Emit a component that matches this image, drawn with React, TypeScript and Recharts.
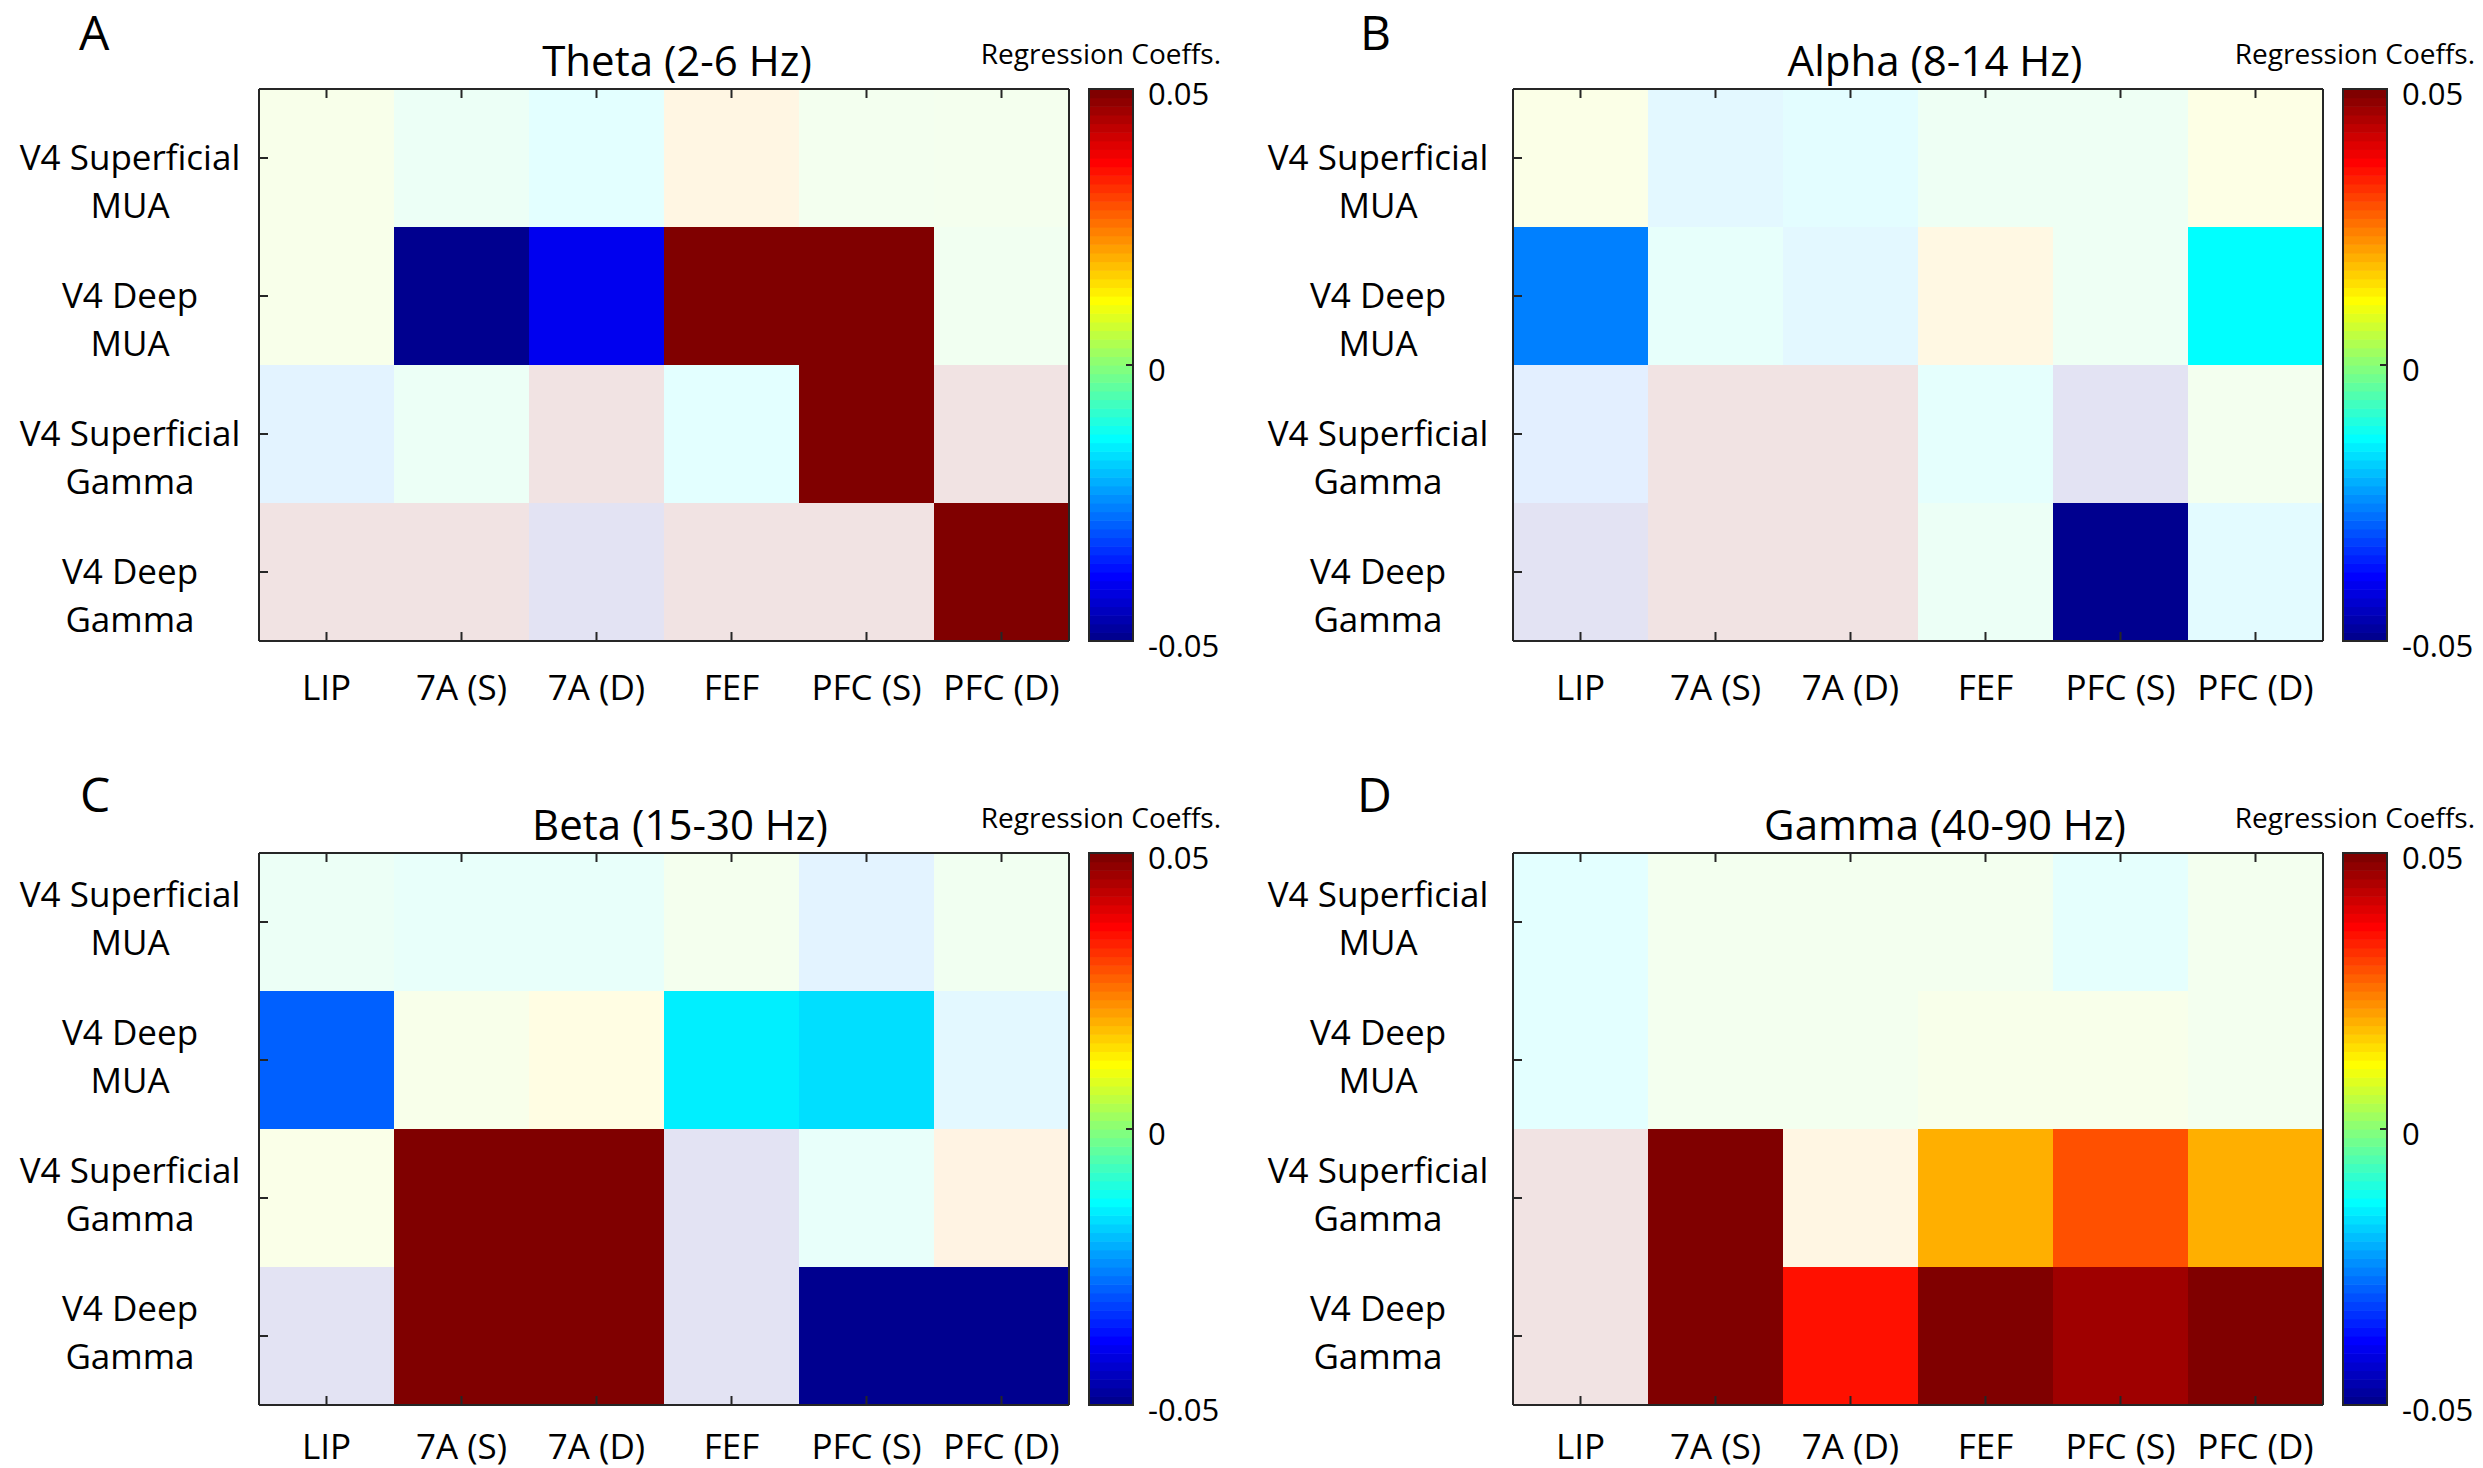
import { Bar, BarChart, Cell, XAxis, YAxis } from 'recharts'

const FONT = '"Open Sans", "Noto Sans", sans-serif'
const FRAME = '#262626'

const AREAS = ['LIP', '7A (S)', '7A (D)', 'FEF', 'PFC (S)', 'PFC (D)']
const SIGNAL_LABELS = [
  ['V4 Superficial', 'MUA'],
  ['V4 Deep', 'MUA'],
  ['V4 Superficial', 'Gamma'],
  ['V4 Deep', 'Gamma'],
]
const ROW_KEYS = ['supMua', 'deepMua', 'supGamma', 'deepGamma']
const CLIM = [-0.05, 0.05]
const CBAR_TICKS = [0.05, 0, -0.05]

// rows follow SIGNAL_LABELS, columns follow AREAS
const thetaCoeffs = [
  [0.005, -0.006, -0.014, 0.02, 0.0, 0.002],
  [0.006, -0.05, -0.04, 0.05, 0.05, -0.001],
  [-0.025, -0.005, 0.05, -0.013, 0.05, 0.05],
  [0.05, 0.05, -0.05, 0.05, 0.05, 0.05],
]
const thetaSig = [
  [0, 0, 0, 0, 0, 0],
  [0, 1, 1, 1, 1, 0],
  [0, 0, 0, 0, 1, 0],
  [0, 0, 0, 0, 0, 1],
]

const alphaCoeffs = [
  [0.008, -0.02, -0.015, -0.004, -0.004, 0.01],
  [-0.026, -0.01, -0.02, 0.018, -0.004, -0.0133],
  [-0.027, 0.05, 0.05, -0.011, -0.05, 0.001],
  [-0.05, 0.05, 0.05, -0.005, -0.05, -0.016],
]
const alphaSig = [
  [0, 0, 0, 0, 0, 0],
  [1, 0, 0, 0, 0, 1],
  [0, 0, 0, 0, 0, 0],
  [0, 0, 0, 0, 1, 0],
]

const betaCoeffs = [
  [-0.005, -0.008, -0.008, 0.002, -0.025, -0.001],
  [-0.029, 0.005, 0.013, -0.0148, -0.0164, -0.02],
  [0.007, 0.05, 0.05, -0.05, -0.008, 0.022],
  [-0.05, 0.05, 0.05, -0.05, -0.05, -0.05],
]
const betaSig = [
  [0, 0, 0, 0, 0, 0],
  [1, 0, 0, 1, 1, 0],
  [0, 1, 1, 0, 0, 0],
  [0, 1, 1, 0, 1, 1],
]

const gammaCoeffs = [
  [-0.013, 0.0, 0.0, 0.001, -0.012, 0.0],
  [-0.013, 0.0, 0.0, 0.006, 0.006, 0.001],
  [0.05, 0.05, 0.02, 0.0195, 0.029, 0.0195],
  [0.05, 0.05, 0.035, 0.05, 0.046, 0.05],
]
const gammaSig = [
  [0, 0, 0, 0, 0, 0],
  [0, 0, 0, 0, 0, 0],
  [0, 1, 0, 1, 1, 1],
  [0, 1, 1, 1, 1, 1],
]

// MATLAB jet(64)
const JET: number[][] = (() => {
  const m = 64
  const n = 16
  const u = [
    ...Array.from({ length: n }, (_, i) => (i + 1) / n),
    ...Array(n - 1).fill(1),
    ...Array.from({ length: n }, (_, i) => (n - i) / n),
  ]
  const rgb = Array.from({ length: m }, () => [0, 0, 0])
  u.forEach((val, k) => {
    const g = n / 2 + k + 1
    const r = g + n
    const b = g - n
    if (r <= m) rgb[r - 1][0] = val
    if (g <= m) rgb[g - 1][1] = val
    if (b >= 1) rgb[b - 1][2] = val
  })
  return rgb
})()

const toRgb = ([r, g, b]: number[]) =>
  `rgb(${Math.round(r * 255)},${Math.round(g * 255)},${Math.round(b * 255)})`

const colorIndex = (v: number) =>
  Math.min(63, Math.max(0, Math.floor(((v - CLIM[0]) / (CLIM[1] - CLIM[0])) * 64)))

const cellRows = AREAS.map((area) => ({
  area,
  supMua: 1,
  deepMua: 1,
  supGamma: 1,
  deepGamma: 1,
}))

const W = 810
const H = 552
const Y_TICKS = [0.5, 1.5, 2.5, 3.5]

// lineDy: baselines of the two label lines relative to the row tick
const PANELS = [
  { letter: 'A', title: 'Theta (2-6 Hz)', coeffs: thetaCoeffs, sig: thetaSig, left: 259, top: 89, titleX: 677, letterX: 79, letterY: 50, labelDx: 129, lineDy: [12, 60], xLabelDy: 59 },
  { letter: 'B', title: 'Alpha (8-14 Hz)', coeffs: alphaCoeffs, sig: alphaSig, left: 1513, top: 89, titleX: 1935, letterX: 1360, letterY: 50, labelDx: 135, lineDy: [12, 60], xLabelDy: 59 },
  { letter: 'C', title: 'Beta (15-30 Hz)', coeffs: betaCoeffs, sig: betaSig, left: 259, top: 853, titleX: 680, letterX: 80, letterY: 812, labelDx: 129, lineDy: [-15, 33], xLabelDy: 54 },
  { letter: 'D', title: 'Gamma (40-90 Hz)', coeffs: gammaCoeffs, sig: gammaSig, left: 1513, top: 853, titleX: 1945, letterX: 1357, letterY: 812, labelDx: 135, lineDy: [-15, 33], xLabelDy: 54 },
]

type Panel = (typeof PANELS)[number]

function Heatmap({ p }: { p: Panel }) {
  const axisLine = { stroke: FRAME, strokeWidth: 2 }
  return (
    <div style={{ position: 'absolute', left: p.left - 259, top: p.top - 20 }}>
      <BarChart
        width={259 + W + 10}
        height={20 + H + 90}
        data={cellRows}
        margin={{ top: 10, right: 0, bottom: 0, left: 9 }}
        barCategoryGap={0}
        barGap={0}
      >
        {ROW_KEYS.map((k, r) => (
          <Bar
            key={k}
            dataKey={k}
            stackId="cells"
            xAxisId="bottom"
            yAxisId="left"
            isAnimationActive={false}
            shapeRendering="crispEdges"
          >
            {AREAS.map((a, c) => (
              <Cell
                key={a}
                fill={toRgb(JET[colorIndex(p.coeffs[r][c])])}
                fillOpacity={p.sig[r][c] ? 1 : 0.11}
              />
            ))}
          </Bar>
        ))}
        <XAxis
          xAxisId="bottom"
          dataKey="area"
          orientation="bottom"
          height={90}
          interval={0}
          tickSize={0}
          tickMargin={0}
          tickLine={false}
          axisLine={axisLine}
          tick={(t: any) => (
            <g>
              <line x1={t.x} x2={t.x} y1={t.y} y2={t.y - 9} stroke={FRAME} strokeWidth={2} />
              <text x={t.x} y={t.y + p.xLabelDy} textAnchor="middle" fontSize={35} fontFamily={FONT} fill="#000">
                {t.payload.value}
              </text>
            </g>
          )}
        />
        <XAxis
          xAxisId="top"
          dataKey="area"
          orientation="top"
          height={10}
          interval={0}
          tickSize={0}
          tickMargin={0}
          tickLine={false}
          axisLine={axisLine}
          tick={(t: any) => (
            <line x1={t.x} x2={t.x} y1={t.y} y2={t.y + 9} stroke={FRAME} strokeWidth={2} />
          )}
        />
        <YAxis
          yAxisId="left"
          type="number"
          domain={[0, 4]}
          reversed
          ticks={Y_TICKS}
          width={250}
          interval={0}
          tickSize={0}
          tickMargin={0}
          tickLine={false}
          axisLine={axisLine}
          tick={(t: any) => {
            const [l1, l2] = SIGNAL_LABELS[Math.floor(t.payload.value)]
            const cx = t.x - p.labelDx
            return (
              <g>
                <line x1={t.x} x2={t.x + 9} y1={t.y} y2={t.y} stroke={FRAME} strokeWidth={2} />
                <text textAnchor="middle" fontSize={35} fontFamily={FONT} fill="#000">
                  <tspan x={cx} y={t.y + p.lineDy[0]}>{l1}</tspan>
                  <tspan x={cx} y={t.y + p.lineDy[1]}>{l2}</tspan>
                </text>
              </g>
            )
          }}
        />
        <YAxis
          yAxisId="right"
          orientation="right"
          type="number"
          domain={[0, 4]}
          reversed
          ticks={Y_TICKS}
          width={10}
          interval={0}
          tickSize={0}
          tickMargin={0}
          tickLine={false}
          axisLine={axisLine}
          tick={(t: any) => (
            <line x1={t.x} x2={t.x - 9} y1={t.y} y2={t.y} stroke={FRAME} strokeWidth={2} />
          )}
        />
      </BarChart>
    </div>
  )
}

function Decorations({ p }: { p: Panel }) {
  const cbX = p.left + W + 20
  const cbW = 44
  const band = H / 64
  const yOf = (v: number) => p.top + ((CLIM[1] - v) / (CLIM[1] - CLIM[0])) * H
  return (
    <g fontFamily={FONT} fill="#000">
      <text x={p.letterX} y={p.letterY} fontSize={48}>
        {p.letter}
      </text>
      <text x={p.titleX} y={p.top - 13} fontSize={42} textAnchor="middle">
        {p.title}
      </text>
      <text x={cbX + 132} y={p.top - 25} fontSize={28} textAnchor="end">
        Regression Coeffs.
      </text>
      {JET.map((c, i) => (
        <rect
          key={i}
          x={cbX}
          y={p.top + (63 - i) * band}
          width={cbW}
          height={band + 0.6}
          fill={toRgb(c)}
        />
      ))}
      <rect x={cbX} y={p.top} width={cbW} height={H} fill="none" stroke={FRAME} strokeWidth={2} />
      {CBAR_TICKS.map((v) => (
        <g key={v}>
          <line x1={cbX + cbW} x2={cbX + cbW - 7} y1={yOf(v)} y2={yOf(v)} stroke={FRAME} strokeWidth={2} />
          <text x={cbX + cbW + 15} y={yOf(v) + 16} fontSize={31}>
            {String(v)}
          </text>
        </g>
      ))}
    </g>
  )
}

export default function App() {
  return (
    <div
      style={{
        position: 'absolute',
        left: 0,
        top: 0,
        width: 2483,
        height: 1468,
        overflow: 'hidden',
        background: '#fff',
      }}
    >
      {PANELS.map((p) => (
        <Heatmap key={p.letter} p={p} />
      ))}
      <svg
        width={2483}
        height={1468}
        style={{ position: 'absolute', left: 0, top: 0, pointerEvents: 'none' }}
      >
        {PANELS.map((p) => (
          <Decorations key={p.letter} p={p} />
        ))}
      </svg>
    </div>
  )
}
